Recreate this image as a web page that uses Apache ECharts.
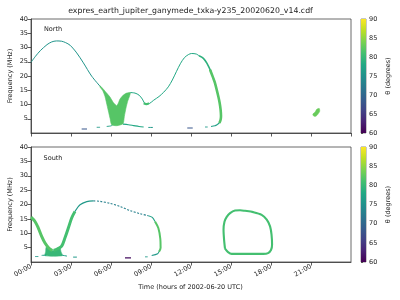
<!DOCTYPE html>
<html><head><meta charset="utf-8">
<script src="https://cdn.jsdelivr.net/npm/echarts@6/dist/echarts.min.js"></script>
<style>html,body{margin:0;padding:0;background:#fff}#c{width:400px;height:300px}</style>
</head><body><div id="c"></div>
<script>
// ---- data (time in hours, frequency in MHz) ----
const xTicks = [0,3,6,9,12,15,18,21];
const yTicks = [5,10,15,20,25,30,35,40];
const thetaTicks = [60,65,70,75,80,85,90];

// North hemisphere
const northArc = [[0,24.8],[0.35,27.0],[0.7,28.9],[1.2,31.0],[1.55,31.95],[1.9,32.3],[2.3,32.2],[2.6,31.7],[2.93,30.8],[3.43,28.1],[3.93,24.6],[4.55,19.95],[5.18,16.4]];
const northBowtie = [[5.175,16.56],[5.425,15.39],[5.675,14.0],[5.925,12.6],[6.175,10.7],[6.425,9.56],[6.55,10.5],[6.675,11.9],[6.925,13.3],[7.175,14.0],[7.45,14.2],[7.4,13.1],[7.25,11.1],[7.12,8.7],[7.0,5.8],[6.9,3.25],[6.425,2.56],[6.05,2.9],[5.925,5.2],[5.725,9.3],[5.55,12.8],[5.375,14.9],[5.175,16.1]];
const northHump = [[7.45,14.2],[7.8,14.0],[8.1,13.3],[8.35,11.9],[8.5,10.6],[8.65,10.1],[8.9,10.4],[9.2,11.5],[9.6,12.8],[9.95,14.3],[10.3,16.2],[10.6,18.6],[10.9,21.5],[11.2,24.3],[11.5,26.4],[11.8,27.5],[12.05,27.9],[12.4,27.7],[12.6,27.1]];
const northDip = [[8.45,10.4],[8.65,10.1],[8.85,10.5]];
const northLoopUpper = [[12.6,27.1],[12.93,26.2],[13.2,24.4],[13.5,21.5]];
const northLoopLower = [[13.43,22.2],[13.65,19.5],[13.8,17.5],[14.05,12.8],[14.15,10.5],[14.22,8.2],[14.25,6.0],[14.22,4.65],[14.13,3.5]];
const northLoopBottom = [[14.13,3.5],[13.95,2.9],[13.8,2.56],[13.5,2.3]];
const northDashA = [[4.93,2.0],[5.18,2.0]];
const northDashB = [[5.68,2.3],[5.95,2.45],[6.1,2.7]];
const northTail = [[6.9,3.1],[7.3,2.9],[7.7,2.6],[8.1,2.3],[8.45,2.1]];
const northDashC = [[8.8,1.95],[9.15,1.95]];
const northDashD = [[13.05,2.1],[13.25,2.1]];
const northLowA = [[3.8,1.4],[4.2,1.4]];
const northLowB = [[11.72,1.75],[12.13,1.75]];
const northBlob = [[21.15,6.2],[21.3,5.8],[21.45,6.2],[21.65,7.6],[21.62,8.6],[21.45,8.4],[21.3,7.3],[21.15,6.7]];

// South hemisphere
const southLeftBand = [[0,15.6],[0.3,14.1],[0.55,11.8],[0.8,8.9],[1.05,6.6],[1.35,4.8],[1.6,4.0]];
const southRightBand = [[1.7,4.0],[2.0,4.6],[2.3,5.5],[2.55,8.4],[2.8,11.8],[3.05,15.3],[3.3,17.6]];
const southBlob = [[1.15,5.2],[1.65,3.9],[2.15,5.2],[2.25,3.6],[2.35,2.2],[1.05,2.2],[1.1,3.6]];
const southArc = [[3.3,17.6],[3.68,19.9],[4.18,21.0],[4.68,21.25]];
const southDotted = [[4.68,21.25],[5.18,21.1],[5.93,20.4],[6.68,19.3],[7.43,17.9],[8.18,16.8],[8.8,16.1]];
const southArcEnd = [[8.8,16.1],[9.1,15.5],[9.3,14.1]];
const southVertical = [[9.3,14.1],[9.55,11.8],[9.7,8.0],[9.72,5.0],[9.6,3.6]];
const southTail = [[9.6,3.6],[9.5,2.9],[9.05,2.25]];
const southDashA = [[8.55,1.8],[8.75,1.8]];
const southDashB = [[0.3,1.9],[0.55,1.9]];
const southDashC = [[0.8,2.3],[1.15,2.4]];
const southDashD = [[2.3,2.4],[2.7,2.05]];
const southDashE = [[3.15,1.7],[3.45,1.7]];
const southLow = [[7.05,1.45],[7.5,1.45]];
const southLoop = [[14.55,4.66],[14.48,7.8],[14.44,11.2],[14.51,14.0],[14.68,15.7],[14.93,17.0],[15.3,17.9],[15.68,18.0],[16.05,17.8],[16.67,17.35],[17.3,16.4],[17.68,14.7],[17.93,12.4],[18.04,9.5],[18.08,6.0],[18.0,4.15],[17.78,3.1],[17.42,2.83],[15.05,2.83],[14.78,3.45],[14.55,4.66]];

// ---- colour scale ----
const VIRIDIS = ['#440154','#482475','#414487','#355f8d','#2a788e','#21918c','#22a884','#44bf70','#7ad151','#bddf26','#fde725'];
function hex2rgb(h){return [1,3,5].map(i=>parseInt(h.substr(i,2),16));}
function viridis(theta){
  let v=(theta-60)/30; v=Math.max(0,Math.min(1,v));
  const p=v*10, i=Math.min(9,Math.floor(p)), f=p-i;
  const a=hex2rgb(VIRIDIS[i]), b=hex2rgb(VIRIDIS[i+1]);
  return 'rgb('+a.map((c,k)=>Math.round(c+(b[k]-c)*f)).join(',')+')';
}

const FONT='DejaVu Sans';
const series=[];
function line(data, theta, width, panel, dash){
  series.push({type:'line',xAxisIndex:panel,yAxisIndex:panel,data:data,showSymbol:false,smooth:0.3,
    lineStyle:{color:viridis(theta),width:width,type:dash||'solid',cap:'butt'},silent:true,z:3});
}
function poly(points, theta, panel){
  series.push({type:'custom',xAxisIndex:panel,yAxisIndex:panel,data:points,encode:{x:0,y:1},silent:true,z:2,
    renderItem:function(p,api){
      if(p.dataIndex!==0) return null;
      return {type:'polygon',shape:{points:points.map(pt=>api.coord(pt)),smooth:0.2},
        style:{fill:viridis(theta),stroke:viridis(theta),lineWidth:0.6}};
    }});
}
// north
line(northArc,75.5,1.0,0);
poly(northBowtie,82,0);
line(northHump,78,1.0,0);
line(northDip,81,2.2,0);
line(northLoopUpper,79,1.6,0);
line(northLoopLower,82,2.6,0);
line(northLoopBottom,77,1.1,0);
line(northDashA,76,1.0,0);
line(northDashB,77,1.0,0);
line(northTail,78,1.1,0);
line(northDashC,76,1.0,0);
line(northDashD,76,1.0,0);
line(northLowA,68,1.2,0);
line(northLowB,68,1.2,0);
poly(northBlob,83,0);
// south
line(southLeftBand,82,3,1);
line(southRightBand,81,3,1);
poly(southBlob,80,1);
line(southArc,76,1.1,1);
line(southDotted,73,1.1,1,[2,1.5]);
line(southArcEnd,77,1.1,1);
line(southVertical,82,2,1);
line(southTail,76,1.1,1);
line(southDashA,76,1.0,1);
line(southDashB,76,1.0,1);
line(southDashC,77,1.0,1);
line(southDashD,77,1.0,1);
line(southDashE,76,1.0,1);
line(southLow,61,1.2,1);
line(southLoop,81,2.1,1);

// colour bars
const cbStops = VIRIDIS.map((c,i)=>({offset:i/10,color:c}));
[2,3].forEach(gi=>{
  series.push({type:'custom',xAxisIndex:gi,yAxisIndex:gi,data:[[0,60]],silent:true,
    renderItem:function(p,api){
      const a=api.coord([0,90]), b=api.coord([1,60]);
      return {type:'rect',shape:{x:a[0],y:a[1],width:b[0]-a[0],height:b[1]-a[1]},
        style:{fill:new echarts.graphic.LinearGradient(0,1,0,0,cbStops)}};
    }});
});

const tickColor='#333';
function mainX(gi, labels){
  return {type:'value',gridIndex:gi,min:0,max:24,interval:3,
    axisLine:{show:true,lineStyle:{color:tickColor,width:0.8}},
    axisTick:{show:true,length:3.5,lineStyle:{color:tickColor,width:0.8}},
    splitLine:{show:false},
    axisLabel:{show:labels,showMaxLabel:false,rotate:30,fontSize:6.5,fontFamily:FONT,color:'#222',margin:4,
      formatter:v=>(v<10?'0':'')+v+':00'}};
}
function mainY(gi){
  return {type:'value',gridIndex:gi,min:0,max:40,interval:5,
    axisLine:{show:true,lineStyle:{color:tickColor,width:0.8}},
    axisTick:{show:true,length:3.5,lineStyle:{color:tickColor,width:0.8}},
    splitLine:{show:false},
    axisLabel:{showMinLabel:false,fontSize:6.5,fontFamily:FONT,color:'#222',margin:3}};
}
function cbX(gi){return {type:'value',gridIndex:gi,min:0,max:1,show:false};}
function cbY(gi){
  return {type:'value',gridIndex:gi,min:60,max:90,interval:5,position:'right',
    axisLine:{show:false},axisTick:{show:true,length:2,lineStyle:{color:tickColor,width:0.8}},
    splitLine:{show:false},
    axisLabel:{fontSize:6.5,fontFamily:FONT,color:'#222',margin:3}};
}
const gridStyle={show:true,borderColor:'#444',borderWidth:0.8,backgroundColor:'#fff'};
const cbStyle={show:true,borderColor:'#444',borderWidth:0.6};
function txt(x,y,s,size,rot){
  return {type:'text',x:x,y:y,rotation:rot||0,z:10,
    style:{text:s,font:size+'px "'+FONT+'"',fill:'#222',align:'center',verticalAlign:'middle'}};
}

const chart=echarts.init(document.getElementById('c'),null,{renderer:'canvas'});
chart.setOption({
  animation:false,backgroundColor:'#fff',
  grid:[
    Object.assign({left:31,top:19,width:320,height:114},gridStyle),
    Object.assign({left:31,top:147,width:320,height:115},gridStyle),
    Object.assign({left:361,top:19,width:5,height:114},cbStyle),
    Object.assign({left:361,top:147,width:5,height:115},cbStyle)
  ],
  xAxis:[mainX(0,false),mainX(1,true),cbX(2),cbX(3)],
  yAxis:[mainY(0),mainY(1),cbY(2),cbY(3)],
  series:series,
  graphic:[
    txt(190.5,11,'expres_earth_jupiter_ganymede_txka-y235_20020620_v14.cdf',7.8),
    txt(53,29.5,'North',6.5),
    txt(53,158,'South',6.5),
    txt(10,76,'Frequency (MHz)',6.5,Math.PI/2),
    txt(10,204.5,'Frequency (MHz)',6.5,Math.PI/2),
    txt(388,76,'θ (degrees)',6.5,Math.PI/2),
    txt(388,204.5,'θ (degrees)',6.5,Math.PI/2),
    txt(190.5,287,'Time (hours of 2002-06-20 UTC)',6.5)
  ]
});
</script></body></html>
